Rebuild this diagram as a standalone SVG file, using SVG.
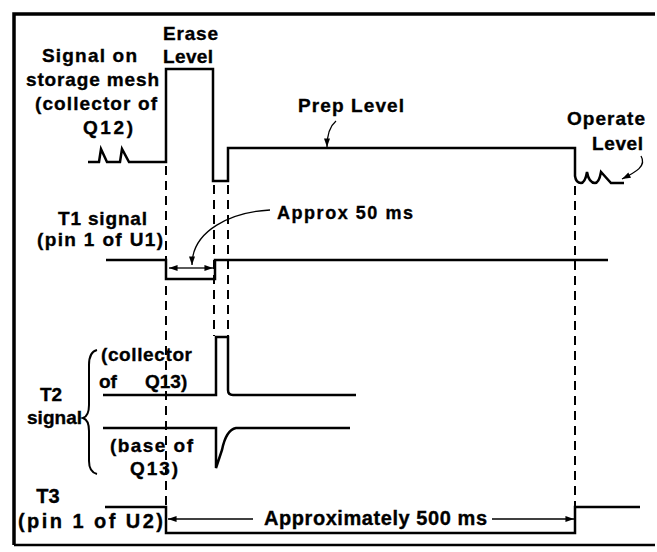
<svg xmlns="http://www.w3.org/2000/svg" width="657" height="552" viewBox="0 0 657 552">
<style>
text{font-family:"Liberation Sans",Arial,Helvetica,sans-serif;font-weight:bold;font-size:19px;fill:#000;stroke:#000;stroke-width:0.35}
.sm{font-size:18px}
.lg{font-size:20px}
.sig{fill:none;stroke:#000;stroke-width:2.5;stroke-linejoin:miter}
.dash{fill:none;stroke:#000;stroke-width:2;stroke-dasharray:9 6}
.thin{fill:none;stroke:#000;stroke-width:1.3}
.frame{fill:none;stroke:#000;stroke-width:3.5}
</style>
<defs>
<marker id="ah" viewBox="0 0 10 7" refX="10" refY="3.5" markerWidth="9" markerHeight="6" markerUnits="userSpaceOnUse" orient="auto-start-reverse">
<path d="M0,0 L10,3.5 L0,7 z" fill="#000"/>
</marker>
</defs>
<rect width="657" height="552" fill="#fff"/>
<g id="frame">
<path class="frame" d="M14,545 V14 H655"/>
<path fill="none" stroke="#000" stroke-width="2.5" d="M14,545 H655"/>
</g>
<g id="storage-mesh">
<text x="42" y="62" textLength="95" lengthAdjust="spacing">Signal on</text>
<text x="26" y="86" textLength="133" lengthAdjust="spacing">storage mesh</text>
<text x="35" y="110" textLength="122" lengthAdjust="spacing">(collector of</text>
<text x="83" y="134" textLength="50" lengthAdjust="spacing">Q12)</text>
<text x="163" y="40" textLength="55" lengthAdjust="spacing">Erase</text>
<text x="163" y="63" textLength="50" lengthAdjust="spacing">Level</text>
<text x="298" y="112" textLength="106" lengthAdjust="spacing">Prep Level</text>
<text x="567" y="125" textLength="78" lengthAdjust="spacing">Operate</text>
<text x="592" y="150" textLength="51" lengthAdjust="spacing">Level</text>
<path class="sig" d="M88,162 H99 L101,149 L107,162 H120 L122,149 L129,162 H166 V69 H213 V181 H228 V148 H575 V176 Q576,183 581,183 Q585,183 587,172 Q589,183 595,183 Q599,183 601,172 L611,183 H624"/>
</g>
<g id="t1">
<text x="58" y="225" textLength="89" lengthAdjust="spacing">T1 signal</text>
<text x="37" y="246" textLength="126" lengthAdjust="spacing">(pin 1 of U1)</text>
<text class="sm" x="277" y="219" textLength="136" lengthAdjust="spacing">Approx 50 ms</text>
<path class="sig" d="M106,260 H166 V279 H215 V260 H608"/>
</g>
<g id="t2">
<text x="51" y="401" text-anchor="middle">T2</text>
<text x="27" y="424" textLength="55" lengthAdjust="spacing">signal</text>
<text x="101" y="361" textLength="91" lengthAdjust="spacing">(collector</text>
<text x="99" y="388">of<tspan x="145">Q13)</tspan></text>
<text x="110" y="452" textLength="83" lengthAdjust="spacing">(base of</text>
<text x="130" y="475" textLength="48" lengthAdjust="spacing">Q13)</text>
<path fill="none" stroke="#000" stroke-width="2" d="M97,350 Q89,352 89,365 L89,405 Q89,416 83,418 Q89,420 89,431 L89,461 Q89,472 97,474"/>
<path class="sig" d="M103,395 H216 V337 H228 V390 Q228,395 233,395 H356"/>
<path class="sig" d="M103,428 H216 V468 L222,450 Q226,430 236,428 H350"/>
</g>
<g id="t3">
<text class="lg" x="48" y="503" text-anchor="middle">T3</text>
<text class="lg" x="18" y="528" textLength="145" lengthAdjust="spacing">(pin 1 of U2)</text>
<text class="lg" x="264" y="525" textLength="223" lengthAdjust="spacing">Approximately 500 ms</text>
<path class="sig" d="M105,507 H166 V533 H575 V507 H640"/>
</g>
<g id="connectors">
<path class="dash" d="M166,166 V505"/>
<path class="dash" d="M214,185 V336"/>
<path class="dash" d="M228,185 V336"/>
<path class="dash" d="M575,186 V506"/>
<path class="thin" d="M191,268 H169" marker-end="url(#ah)"/>
<path class="thin" d="M191,268 H213" marker-end="url(#ah)"/>
<path class="thin" d="M270,210 C232,212 192,230 192,265" marker-end="url(#ah)"/>
<path class="thin" d="M253,519 H168" marker-end="url(#ah)"/>
<path class="thin" d="M492,519 H574" marker-end="url(#ah)"/>
<path class="thin" d="M336,121 C330,126 327,134 327,147" marker-end="url(#ah)"/>
<path class="thin" d="M641,156 C647,166 636,172 622,179" marker-end="url(#ah)"/>
</g>
</svg>
